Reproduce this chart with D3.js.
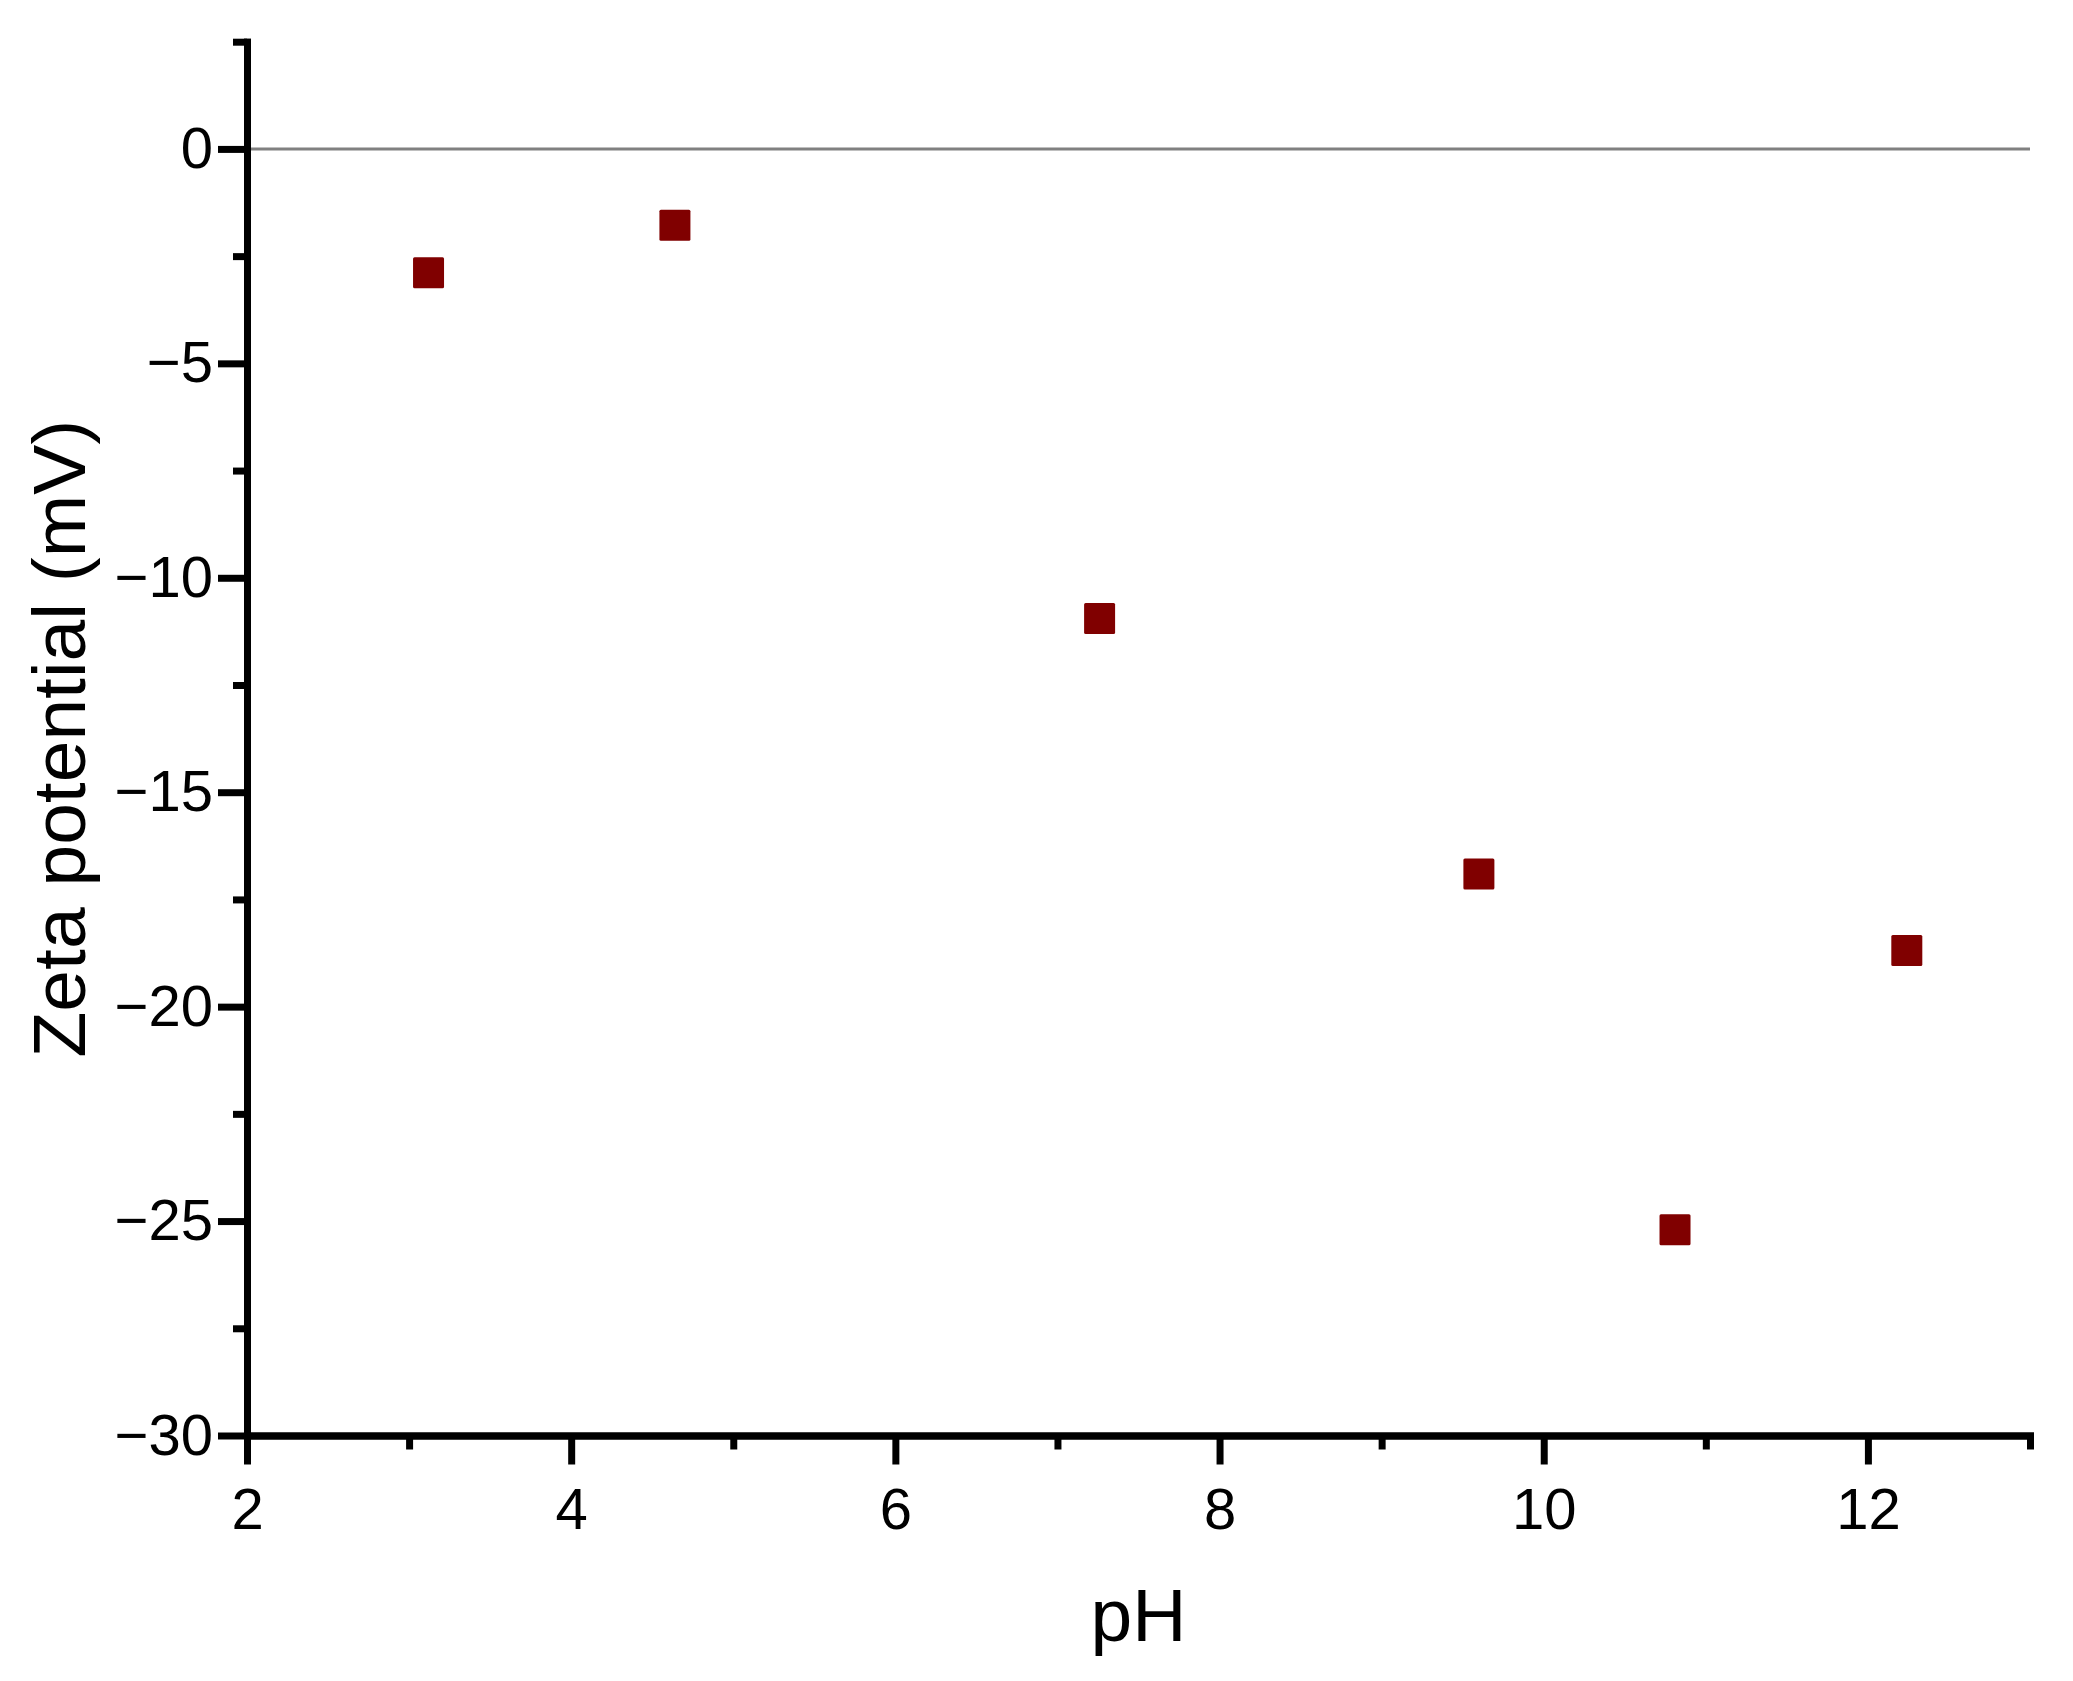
<!DOCTYPE html>
<html>
<head>
<meta charset="utf-8">
<script src="https://cdn.jsdelivr.net/npm/d3@7"></script>
<style>
  body { margin: 0; background: #fff; }
  svg { display: block; font-family: Arial, "Liberation Sans", sans-serif; }
</style>
</head>
<body>
<script>
// data
const pH = [3.12, 4.64, 7.26, 9.60, 10.81, 12.24];
const zeta = [-2.89, -1.78, -10.95, -16.91, -25.2, -18.69];
const xMajorTicks = [2, 4, 6, 8, 10, 12];
const xMinorTicks = [3, 5, 7, 9, 11, 13];
const yMajorTicks = [0, -5, -10, -15, -20, -25, -30];
const yMinorTicks = [2.5, -2.5, -7.5, -12.5, -17.5, -22.5, -27.5];

const width = 2073, height = 1681;

const svg = d3.select("body").append("svg")
    .attr("width", width)
    .attr("height", height);

const x = d3.scaleLinear().domain([2, 13]).range([247, 2030]);
const y = d3.scaleLinear().domain([-30, 2.5]).range([1435.5, 41.7]);

// zero line
svg.append("line")
    .attr("x1", x(2)).attr("x2", x(13))
    .attr("y1", y(0)).attr("y2", y(0))
    .attr("stroke", "#808080")
    .attr("stroke-width", 3);

function styleAxis(g) {
  g.selectAll("path.domain")
    .attr("stroke", "#000")
    .attr("stroke-width", 7)
    .attr("stroke-linecap", "square");
  g.selectAll(".tick line")
    .attr("stroke", "#000")
    .attr("stroke-width", 7);
  g.selectAll(".tick text")
    .attr("fill", "#000")
    .style("font-size", "58px")
    .style("font-family", "Arial, 'Liberation Sans', sans-serif");
}

// minor ticks
svg.append("g")
    .attr("transform", `translate(0,${y(-30)})`)
    .call(d3.axisBottom(x).tickValues(xMinorTicks).tickSize(14).tickSizeOuter(0).tickFormat(""))
    .call(styleAxis);

svg.append("g")
    .attr("transform", `translate(${x(2)},0)`)
    .call(d3.axisLeft(y).tickValues(yMinorTicks).tickSize(14).tickSizeOuter(0).tickFormat(""))
    .call(styleAxis);

// major ticks
svg.append("g")
    .attr("transform", `translate(0,${y(-30)})`)
    .call(d3.axisBottom(x).tickValues(xMajorTicks).tickSize(29).tickPadding(23.5).tickSizeOuter(0).tickFormat(d3.format("d")))
    .call(styleAxis);

svg.append("g")
    .attr("transform", `translate(${x(2)},0)`)
    .call(d3.axisLeft(y).tickValues(yMajorTicks).tickSize(29).tickPadding(5).tickSizeOuter(0).tickFormat(d3.format("d")))
    .call(styleAxis);

// points
svg.append("g")
  .selectAll("rect")
  .data(pH.map((p, i) => ({ p: p, z: zeta[i] })))
  .enter()
  .append("rect")
    .attr("x", d => x(d.p) - 15.5)
    .attr("y", d => y(d.z) - 15.5)
    .attr("width", 31)
    .attr("height", 31)
    .attr("rx", 1.5)
    .attr("fill", "#800000");

// axis titles
svg.append("text")
    .attr("x", (x(2) + x(13)) / 2)
    .attr("y", 1641)
    .attr("text-anchor", "middle")
    .style("font-size", "75px")
    .text("pH");

svg.append("text")
    .attr("transform", `translate(85,${(y(2.5) + y(-30)) / 2}) rotate(-90)`)
    .attr("text-anchor", "middle")
    .style("font-size", "75px")
    .text("Zeta potential (mV)");
</script>
</body>
</html>
